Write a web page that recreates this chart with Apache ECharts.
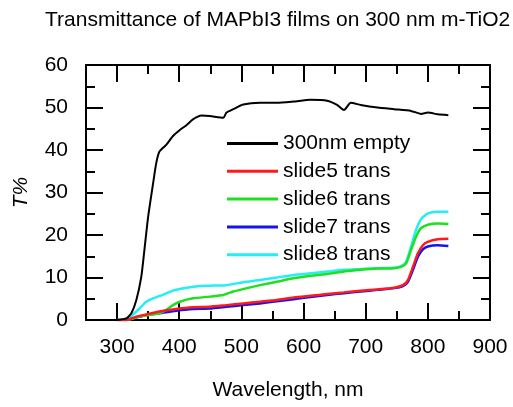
<!DOCTYPE html>
<html>
<head>
<meta charset="utf-8">
<script src="https://cdn.jsdelivr.net/npm/echarts@6/dist/echarts.min.js"></script>
<style>
  html, body { margin: 0; padding: 0; background: #fff; }
  #chart { width: 513px; height: 407px; }
</style>
</head>
<body>
<div id="chart"></div>
<script>
// Transmittance spectra (T%) vs wavelength (nm)
const seriesNames = ['300nm empty', 'slide5 trans', 'slide6 trans', 'slide7 trans', 'slide8 trans'];
const seriesColors = ['#000000', '#ff1a1a', '#1ee01e', '#1414f0', '#22eef8'];

const emptyWl = [300, 315, 323, 331, 339, 344, 350, 358, 363, 368, 379, 390, 401, 412, 422, 436, 449, 471, 476, 487, 503, 530, 557, 584, 611, 638, 654, 665, 676, 692, 719, 746, 773, 789, 800, 816, 833];
const emptyT  = [0, 0.4, 1.6, 4.7, 10.2, 16.5, 24.3, 32.2, 36.9, 39.6, 41.2, 43.3, 44.7, 45.9, 47.2, 48.1, 48.0, 47.6, 48.8, 49.6, 50.7, 51.1, 51.1, 51.4, 51.8, 51.6, 50.6, 49.4, 51.1, 50.6, 50.0, 49.6, 49.2, 48.5, 48.8, 48.4, 48.2];

const slide5Wl = [300, 315, 331, 347, 368, 395, 422, 449, 476, 503, 530, 557, 584, 611, 638, 665, 692, 719, 746, 760, 768, 776, 784, 792, 800, 816, 833];
const slide5T  = [0, 0, 0.8, 1.3, 2.0, 2.6, 3.0, 3.1, 3.5, 3.9, 4.3, 4.7, 5.3, 5.7, 6.1, 6.5, 6.9, 7.2, 7.6, 8.2, 9.4, 12.5, 15.7, 17.6, 18.4, 19.0, 19.1];

const slide6Wl = [300, 315, 336, 352, 368, 379, 390, 401, 422, 449, 471, 487, 509, 530, 557, 584, 611, 638, 665, 692, 719, 746, 757, 765, 773, 781, 789, 800, 816, 833];
const slide6T  = [0, 0, 0.8, 1.2, 1.6, 2.4, 3.5, 4.3, 5.1, 5.5, 5.9, 6.7, 7.5, 8.2, 9.0, 9.8, 10.4, 10.8, 11.4, 11.8, 12.1, 12.2, 12.5, 13.3, 16.5, 19.6, 21.6, 22.4, 22.7, 22.6];

const slide7Wl = [300, 315, 331, 347, 368, 395, 422, 449, 476, 503, 530, 557, 584, 611, 638, 665, 692, 719, 746, 760, 768, 776, 784, 792, 800, 816, 833];
const slide7T  = [0, 0, 0.6, 1.2, 1.6, 2.2, 2.6, 2.7, 3.1, 3.5, 3.9, 4.4, 4.9, 5.4, 5.9, 6.3, 6.7, 7.1, 7.5, 8.0, 9.0, 11.8, 14.9, 16.6, 17.3, 17.6, 17.4];

const slide8Wl = [300, 315, 325, 336, 347, 358, 368, 390, 412, 433, 455, 476, 503, 530, 557, 584, 611, 638, 665, 692, 719, 746, 757, 765, 773, 781, 789, 800, 816, 833];
const slide8T  = [0, 0, 1.2, 2.7, 4.3, 5.1, 5.6, 6.9, 7.6, 8.0, 8.1, 8.2, 8.9, 9.4, 10.0, 10.6, 11.0, 11.4, 11.8, 12.0, 12.2, 12.3, 12.7, 13.7, 17.3, 21.2, 23.7, 25.1, 25.5, 25.5];

// Axis ticks
const xMajorTicks = [300, 400, 500, 600, 700, 800, 900];
const xMinorTicks = [350, 450, 550, 650, 750, 850];
const yMajorTicks = [0, 10, 20, 30, 40, 50, 60];
const yMinorTicks = [5, 15, 25, 35, 45, 55];

const wlSets = [emptyWl, slide5Wl, slide6Wl, slide7Wl, slide8Wl];
const tSets = [emptyT, slide5T, slide6T, slide7T, slide8T];
const lineWidths = [2, 2.5, 2.5, 2.5, 2.5];

const FONT = 'Liberation Sans, Arial, sans-serif';
const MAJOR = 17, MINOR = 9;
const gridBox = { left: 86, right: 23, top: 65, bottom: 87, containLabel: false };

// grid 0 carries the frame, major ticks and labels; grid 1 (same box) carries minor ticks
function axisDef(kind, grid, pos, ticks, len, line, labels) {
  const isX = kind === 'x';
  return {
    type: 'value', position: pos, gridIndex: grid,
    min: isX ? 250 : 0, max: isX ? 900 : 60,
    axisLine: { show: true, onZero: false, lineStyle: { color: '#000', width: 2, opacity: line ? 1 : 0 } },
    axisTick: { show: true, inside: true, length: len, customValues: ticks, lineStyle: { color: '#000', width: 2 } },
    axisLabel: labels ? {
      show: true, customValues: isX ? xMajorTicks : yMajorTicks,
      margin: isX ? 17 : 18, fontSize: 21, color: '#000', fontFamily: FONT
    } : { show: false },
    splitLine: { show: false }
  };
}

const xAxes = [
  Object.assign(axisDef('x', 0, 'bottom', xMajorTicks, MAJOR, true, true), {
    name: 'Wavelength, nm', nameLocation: 'middle', nameGap: 60,
    nameTextStyle: { fontSize: 21, color: '#000', fontFamily: FONT }
  }),
  axisDef('x', 0, 'top', xMajorTicks, MAJOR, true, false),
  axisDef('x', 1, 'bottom', xMinorTicks, MINOR, false, false),
  axisDef('x', 1, 'top', xMinorTicks, MINOR, false, false)
];
const yAxes = [
  Object.assign(axisDef('y', 0, 'left', yMajorTicks, MAJOR, true, true), {
    name: 'T%', nameLocation: 'middle', nameGap: 54, nameRotate: 90,
    nameTextStyle: { fontSize: 21, color: '#000', fontFamily: FONT, fontStyle: 'italic' }
  }),
  axisDef('y', 0, 'right', yMajorTicks, MAJOR, true, false),
  axisDef('y', 1, 'left', yMinorTicks, MINOR, false, false),
  axisDef('y', 1, 'right', yMinorTicks, MINOR, false, false)
];

const series = seriesNames.map((name, i) => ({
  name: name,
  type: 'line',
  xAxisIndex: 0, yAxisIndex: 0,
  data: wlSets[i].map((w, k) => [w, tSets[i][k]]),
  symbol: 'none',
  smooth: 0.2,
  lineStyle: { color: seriesColors[i], width: lineWidths[i] },
  itemStyle: { color: seriesColors[i] },
  z: 10 - i
}));

const chart = echarts.init(document.getElementById('chart'), null, { renderer: 'canvas' });
chart.setOption({
  animation: false,
  backgroundColor: '#fff',
  title: {
    text: 'Transmittance of MAPbI3 films on 300 nm m-TiO2',
    left: 40, top: 5,
    textStyle: { fontSize: 21, fontWeight: 'normal', color: '#000', fontFamily: FONT }
  },
  grid: [Object.assign({}, gridBox), Object.assign({}, gridBox)],
  legend: {
    data: seriesNames,
    orient: 'vertical',
    left: 222, top: 128,
    itemWidth: 51, itemHeight: 14, itemGap: 6.8,
    icon: 'path://M0,0 L51,0 L51,3 L0,3 Z',
    textStyle: { fontSize: 21, color: '#000', fontFamily: FONT }
  },
  xAxis: xAxes,
  yAxis: yAxes,
  series: series
});
</script>
</body>
</html>
